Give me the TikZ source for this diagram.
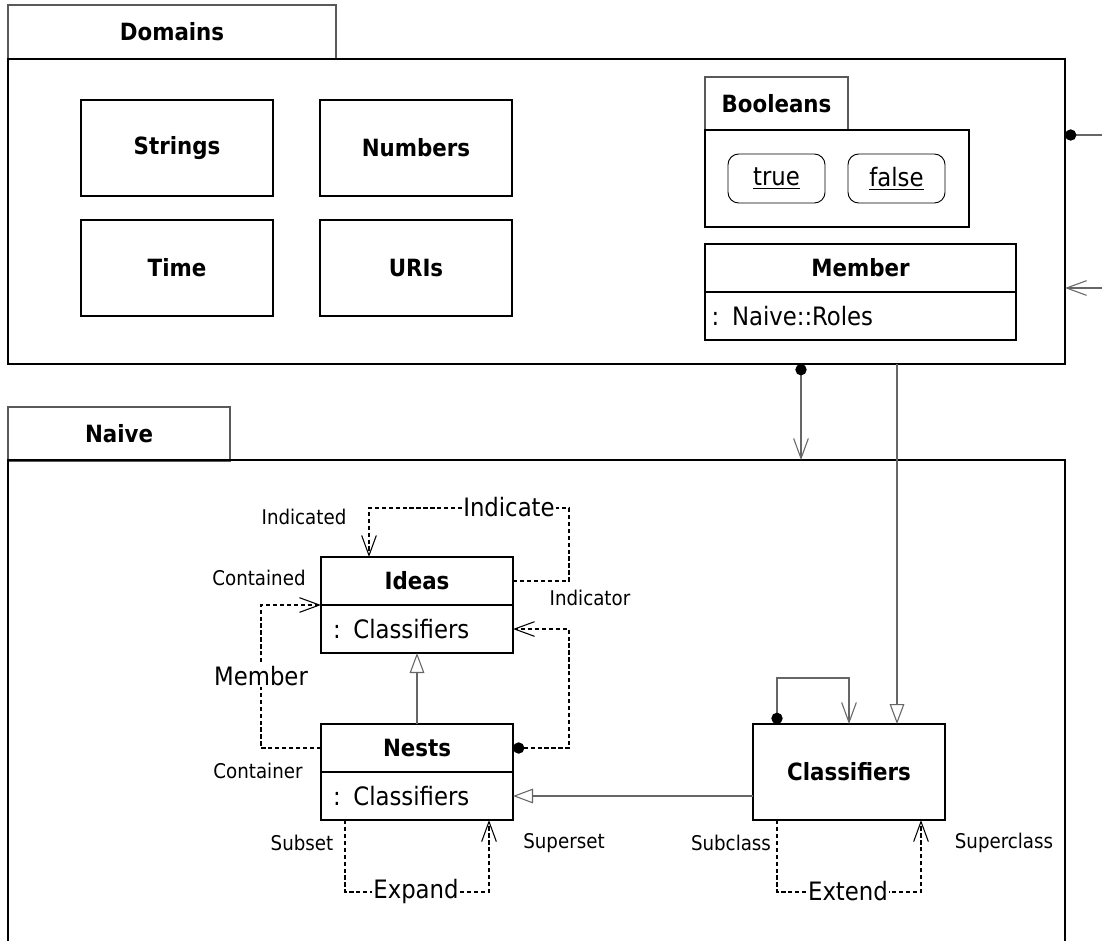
\documentclass[tikz,border=0pt]{standalone}
\usepackage{fontspec}
\setmainfont{DejaVu Sans Condensed}
\usetikzlibrary{positioning,arrows.meta,calc}

\begin{document}
\begin{tikzpicture}[x=0.75pt,y=-0.75pt,node distance=18pt and 35.25pt,
  navi/.tip={Straight Barb[length=15pt,width=11pt,line width=0.8pt]},
  gen/.tip={Triangle[length=15pt,width=11pt,fill=white,line width=0.8pt]},
  blob/.tip={Circle[length=8.5pt,color=black]},
  frame/.style={draw,line width=1.9pt,outer sep=0pt,inner sep=0pt},
  tab/.style={draw=black!65,line width=0.9pt,outer sep=0pt,font=\bfseries\fontsize{17.8}{20}\selectfont},
  dombox/.style={draw,line width=1.4pt,outer sep=0pt,minimum width=144pt,minimum height=72pt,font=\bfseries\fontsize{17.8}{20}\selectfont},
  clshead/.style={draw,line width=1.4pt,outer sep=0pt,minimum width=144pt,minimum height=36pt,font=\bfseries\fontsize{17.8}{20}\selectfont},
  clsbody/.style={draw,line width=1.4pt,outer sep=0pt,minimum height=36pt,inner xsep=9pt,text width=126pt,align=left,font=\fontsize{19}{22}\selectfont},
  lit/.style={draw,line width=0.7pt,rounded corners=8pt,minimum width=72.75pt,minimum height=36.75pt,font=\fontsize{19}{22}\selectfont},
  role/.style={font=\fontsize{15.2}{18}\selectfont},
  linelbl/.style={fill=white,inner sep=1pt,font=\fontsize{19}{22}\selectfont},
  dep/.style={draw,dash pattern=on 3.2pt off 2pt,line width=1pt},
  link/.style={draw=black!60,line width=1pt}]
\useasboundingbox (0,0) rectangle (1102,940);

% Domains package
\node[tab,minimum width=246pt,minimum height=40.5pt] (domainstab) at (172,32) {Domains};
\node[frame,minimum width=792.75pt,minimum height=228.75pt] (domains) at (536.5,211.5) {};
\node[dombox] (strings) at (177,148) {Strings};
\node[dombox,right=of strings] (numbers) {Numbers};
\node[dombox,below=of strings] (time) {Time};
\node[dombox,below=of numbers] (uris) {URIs};

\node[tab,minimum width=107.25pt,minimum height=39.75pt] (booleanstab) at (776.5,103.5) {Booleans};
\node[draw,line width=1.4pt,outer sep=0pt,minimum width=198pt,minimum height=72.75pt] (booleans) at (837,178.5) {};
\node[lit] (true) at (776.5,178.5) {\underline{true}};
\node[lit] (false) at (896.5,178.5) {\underline{false}};

\node[clshead,minimum width=233.25pt] (member) at (860.5,268) {Member};
\node[clsbody,inner xsep=5pt,text width=223.25pt,below=0pt of member] (memberattr) {: Naive::Roles};

% Naive package
\node[tab,minimum width=166.5pt,minimum height=40.5pt] (naivetab) at (119,434) {Naive};
\draw[frame] (8,945) |- (1065,460) -- (1065,945);

\node[clshead] (ideas) at (417,581) {Ideas};
\node[clsbody,below=0pt of ideas] (ideasattr) {: Classifiers};
\node[clshead,below=53.25pt of ideasattr] (nests) {Nests};
\node[clsbody,below=0pt of nests] (nestsattr) {: Classifiers};
\node[dombox] (classifiers) at (849,772) {Classifiers};

% connectors
\coordinate (outa) at (1102,135);
\coordinate (outb) at (1102,288);
\coordinate (naivein) at (801,460);
\coordinate (classgen) at ($(classifiers.north east)+(-48,0)$);
\draw[link,blob-] (domains.east |- outa) -- (outa);
\draw[link,-navi] (outb) -- (domains.east |- outb);
\draw[link,blob-navi] (domains.south -| naivein) -- (naivein);
\draw[link,-gen] (domains.south -| classgen) -- (classgen);

\draw[link,-gen] (nests.north) -- (ideasattr.south);
\draw[link,-gen] (classifiers.west |- nestsattr.east) -- (nestsattr.east);
\draw[link,blob-navi] ($(classifiers.north west)+(24,0)$) -- ++(0,-46) -| (classifiers.north);

\draw[dep,-navi] (ideas.east) -- ++(56,0) -- ++(0,-73) -| ($(ideas.north)+(-48,0)$);
\draw[dep,blob-navi] (nests.east) -- ++(56,0) |- (ideasattr.east);
\draw[dep,-navi] (nests.west) -- ++(-60,0) |- (ideas.south west);
\draw[dep,-navi] ($(nestsattr.south west)+(24,0)$) -- ++(0,72) -| ($(nestsattr.south east)+(-24,0)$);
\draw[dep,-navi] ($(classifiers.south west)+(24,0)$) -- ++(0,72) -| ($(classifiers.south east)+(-24,0)$);

% labels
\node[linelbl] (indicate) at (509,507) {Indicate};
\node[linelbl] (memberlbl) at (261,676) {Member};
\node[linelbl] (expand) at (416,891) {Expand};
\node[linelbl] (extend) at (848,891) {Extend};
\node[role] (indicated) at (304,517) {Indicated};
\node[role] (indicator) at (590,598) {Indicator};
\node[role] (contained) at (259,578) {Contained};
\node[role] (container) at (258,771) {Container};
\node[role] (subset) at (302,843) {Subset};
\node[role] (superset) at (564,843) {Superset};
\node[role] (subclass) at (731,843) {Subclass};
\node[role] (superclass) at (1004,843) {Superclass};
\end{tikzpicture}
\end{document}
